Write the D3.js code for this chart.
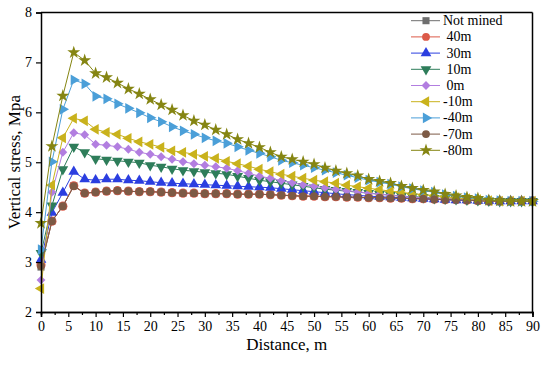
<!DOCTYPE html>
<html>
<head>
<meta charset="utf-8">
<script src="https://cdn.jsdelivr.net/npm/d3@7"></script>
<style>
body { margin: 0; background: #fff; }
text { font-family: "Liberation Serif", "Times New Roman", serif; fill: #000; }
</style>
</head>
<body>
<div class="visHolder"></div>
<script>
// distance along the seam, m
var distance = [0,2,4,6,8,10,12,14,16,18,20,22,24,26,28,30,32,34,36,38,40,42,44,46,48,50,52,54,56,58,60,62,64,66,68,70,72,74,76,78,80,82,84,86,88,90];

var seriesNames = ['Not mined', ' 40m', ' 30m', ' 10m', ' 0m', '-10m', '-40m', '-70m', '-80m'];

var notMined = [2.90,3.82,4.12,4.53,4.38,4.40,4.42,4.43,4.42,4.41,4.41,4.40,4.39,4.38,4.38,4.37,4.37,4.37,4.36,4.36,4.36,4.35,4.34,4.33,4.32,4.32,4.31,4.31,4.30,4.30,4.29,4.29,4.28,4.28,4.27,4.27,4.26,4.25,4.25,4.24,4.23,4.22,4.22,4.22,4.22,4.22];
var m40 = [2.94,3.82,4.12,4.53,4.38,4.40,4.42,4.43,4.42,4.41,4.41,4.40,4.39,4.38,4.38,4.37,4.37,4.37,4.36,4.36,4.36,4.35,4.34,4.33,4.32,4.32,4.31,4.31,4.30,4.30,4.29,4.29,4.28,4.28,4.27,4.27,4.26,4.25,4.25,4.24,4.23,4.22,4.22,4.22,4.22,4.22];
var m30 = [3.05,3.99,4.39,4.81,4.66,4.64,4.66,4.66,4.64,4.63,4.61,4.59,4.58,4.57,4.56,4.55,4.54,4.53,4.52,4.51,4.50,4.49,4.47,4.45,4.43,4.41,4.39,4.37,4.35,4.34,4.32,4.31,4.30,4.29,4.28,4.27,4.26,4.25,4.24,4.24,4.23,4.23,4.22,4.22,4.22,4.22];
var m10 = [3.18,4.13,4.86,5.31,5.20,5.07,5.05,5.03,5.01,4.99,4.94,4.91,4.87,4.84,4.82,4.80,4.78,4.76,4.72,4.68,4.64,4.61,4.58,4.55,4.52,4.49,4.46,4.44,4.42,4.40,4.38,4.36,4.34,4.32,4.31,4.30,4.28,4.27,4.26,4.25,4.24,4.23,4.22,4.22,4.22,4.22];
var m0 = [2.64,4.40,5.20,5.59,5.55,5.36,5.34,5.31,5.26,5.20,5.16,5.11,5.06,5.01,4.97,4.94,4.91,4.88,4.83,4.78,4.72,4.68,4.63,4.59,4.55,4.52,4.49,4.46,4.43,4.41,4.38,4.36,4.34,4.32,4.30,4.29,4.28,4.27,4.26,4.25,4.24,4.23,4.22,4.22,4.22,4.22];
var mMinus10 = [2.47,4.54,5.49,5.88,5.83,5.66,5.60,5.56,5.48,5.41,5.36,5.30,5.23,5.20,5.16,5.12,5.08,5.02,4.97,4.92,4.86,4.81,4.76,4.72,4.68,4.64,4.61,4.58,4.54,4.51,4.48,4.45,4.42,4.40,4.37,4.35,4.33,4.31,4.29,4.27,4.25,4.23,4.22,4.22,4.22,4.22];
var mMinus40 = [3.25,5.01,6.06,6.65,6.57,6.32,6.27,6.17,6.08,5.99,5.89,5.81,5.71,5.63,5.56,5.49,5.43,5.38,5.31,5.24,5.18,5.11,5.04,4.99,4.94,4.89,4.84,4.79,4.74,4.69,4.64,4.60,4.56,4.51,4.47,4.43,4.40,4.35,4.32,4.29,4.27,4.24,4.23,4.22,4.22,4.22];
var mMinus70 = [2.92,3.82,4.12,4.52,4.38,4.40,4.42,4.43,4.42,4.41,4.41,4.40,4.39,4.38,4.38,4.37,4.37,4.37,4.36,4.36,4.36,4.35,4.34,4.33,4.32,4.32,4.31,4.31,4.30,4.30,4.29,4.29,4.28,4.28,4.27,4.27,4.26,4.25,4.25,4.24,4.23,4.22,4.22,4.22,4.22,4.22];
var mMinus80 = [3.78,5.32,6.33,7.20,7.04,6.78,6.70,6.59,6.47,6.37,6.26,6.15,6.05,5.94,5.83,5.75,5.65,5.56,5.46,5.38,5.30,5.20,5.11,5.06,5.01,4.96,4.89,4.83,4.78,4.73,4.66,4.62,4.58,4.52,4.48,4.44,4.41,4.36,4.33,4.30,4.28,4.24,4.23,4.22,4.22,4.22];

var xTicks = [0,5,10,15,20,25,30,35,40,45,50,55,60,65,70,75,80,85,90];
var yTicks = [2,3,4,5,6,7,8];

var allSeries = [notMined, m40, m30, m10, m0, mMinus10, mMinus40, mMinus70, mMinus80];
var colors = ['#6e6e6e', '#dc5a48', '#2b3ee0', '#2e7d5a', '#b27ee0', '#c9b21c', '#4b9fd8', '#7d5a45', '#858512'];
var shapes = ['square', 'bigcircle', 'up', 'down', 'diamond', 'left', 'right', 'circle', 'star'];

var width = 550,
height = 368,
plotLeft = 41,
plotRight = 532.5,
plotTop = 12.5,
plotBottom = 312;

var svg = d3.select('.visHolder').append('svg')
.attr('width', width)
.attr('height', height);

var xScale = d3.scaleLinear()
.domain([0, 90])
.range([plotLeft, plotRight]);

var yScale = d3.scaleLinear()
.domain([2, 8])
.range([plotBottom, plotTop]);

// markers
function marker(shape) {
    if (shape === 'square') return d3.symbol().type(d3.symbolSquare).size(50)();
    if (shape === 'bigcircle') return d3.symbol().type(d3.symbolCircle).size(66)();
    if (shape === 'circle') return d3.symbol().type(d3.symbolCircle).size(48)();
    if (shape === 'diamond') return d3.symbol().type(d3.symbolDiamond2).size(50)();
    if (shape === 'star') return d3.symbol().type(d3.symbolStar).size(52)();
    return d3.symbol().type(d3.symbolTriangle).size(50)();
}
function rotation(shape) {
    if (shape === 'down') return 180;
    if (shape === 'left') return -90;
    if (shape === 'right') return 90;
    return 0;
}

var plot = svg.append('g');

var line = d3.line()
.x(function(d, i) { return xScale(distance[i]); })
.y(function(d) { return yScale(d); });

allSeries.forEach(function(values, k) {
    var g = plot.append('g');
    g.append('path')
    .datum(values)
    .attr('d', line)
    .attr('fill', 'none')
    .attr('stroke', colors[k])
    .attr('stroke-width', 1);

    g.selectAll('path.mark')
    .data(values)
    .enter()
    .append('path')
    .attr('class', 'mark')
    .attr('d', marker(shapes[k]))
    .attr('transform', function(d, i) {
        return 'translate(' + xScale(distance[i]) + ',' + yScale(d) + ') rotate(' + rotation(shapes[k]) + ')';
    })
    .attr('fill', colors[k]);
});

// axes
var xAxis = d3.axisBottom(xScale)
.tickValues(xTicks)
.tickSize(5)
.tickPadding(4);

var xAxisGroup = svg.append('g')
.attr('transform', 'translate(0,' + plotBottom + ')')
.call(xAxis);

svg.append('g')
.attr('transform', 'translate(0,' + plotBottom + ')')
.call(d3.axisBottom(xScale).tickValues(xTicks.slice(0, -1).map(function(t) { return t + 2.5; })).tickSize(3).tickFormat(''));

var yAxisGroup = svg.append('g')
.attr('transform', 'translate(' + plotLeft + ',0)')
.call(d3.axisLeft(yScale).tickValues(yTicks).tickFormat(d3.format('d')).tickSize(5).tickPadding(4));

svg.selectAll('.domain').attr('stroke', '#000').attr('stroke-width', 1.5);
svg.selectAll('.tick line').attr('stroke', '#000').attr('stroke-width', 1.2);
svg.selectAll('.tick text')
.style('font-family', '"Liberation Serif", serif')
.style('font-size', '14px')
.attr('fill', '#000');

// frame top and right
svg.append('line')
.attr('x1', plotLeft).attr('x2', plotRight)
.attr('y1', plotTop).attr('y2', plotTop)
.attr('stroke', '#000').attr('stroke-width', 1.5);
svg.append('line')
.attr('x1', plotRight).attr('x2', plotRight)
.attr('y1', plotTop).attr('y2', plotBottom)
.attr('stroke', '#000').attr('stroke-width', 1.5);

svg.append('text')
.attr('x', (plotLeft + plotRight) / 2)
.attr('y', 350)
.attr('text-anchor', 'middle')
.style('font-size', '17px')
.text('Distance, m');

svg.append('text')
.attr('transform', 'rotate(-90)')
.attr('x', -(plotTop + plotBottom) / 2)
.attr('y', 20)
.attr('text-anchor', 'middle')
.style('font-size', '17px')
.text('Vertical stress, Mpa');

// legend
var legend = svg.append('g');
seriesNames.forEach(function(name, k) {
    var y = 20.7 + k * 16.2;
    legend.append('line')
    .attr('x1', 411).attr('x2', 440)
    .attr('y1', y).attr('y2', y)
    .attr('stroke', colors[k])
    .attr('stroke-width', 1);
    legend.append('path')
    .attr('d', marker(shapes[k] === 'bigcircle' ? 'circle' : shapes[k]))
    .attr('transform', 'translate(426,' + y + ') rotate(' + rotation(shapes[k]) + ')')
    .attr('fill', colors[k]);
    legend.append('text')
    .attr('x', 443)
    .attr('y', y + 4.5)
    .attr('xml:space', 'preserve')
    .style('white-space', 'pre')
    .style('font-size', '14px')
    .text(name);
});
</script>
</body>
</html>
